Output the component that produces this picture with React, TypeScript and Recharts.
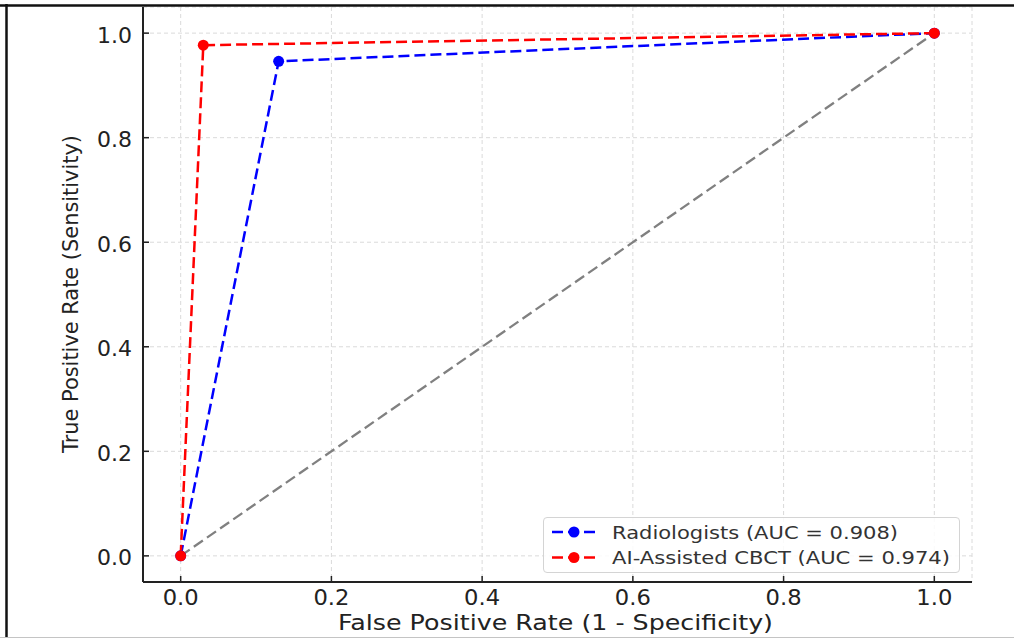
import React from 'react';
import { LineChart, Line, XAxis, YAxis, CartesianGrid, Legend } from 'recharts';

// ---- data ----
const radFpr = [0, 0.13, 1.0];
const radTpr = [0, 0.946, 1.0];
const aiFpr = [0, 0.03, 1.0];
const aiTpr = [0, 0.977, 1.0];
const chanceFpr = [0, 1.0];
const chanceTpr = [0, 1.0];
const axisTicks = [0, 0.2, 0.4, 0.6, 0.8, 1.0];
const seriesNames = ['Radiologists (AUC = 0.908)', 'AI-Assisted CBCT (AUC = 0.974)'];
const seriesColors = ['#0000ff', '#ff0000'];
const xTitle = 'False Positive Rate (1 - Specificity)';
const yTitle = 'True Positive Rate (Sensitivity)';

const toRows = (xs: number[], ys: number[]) => xs.map((x, i) => ({ fpr: x, tpr: ys[i] }));
const radData = toRows(radFpr, radTpr);
const aiData = toRows(aiFpr, aiTpr);
const chanceData = toRows(chanceFpr, chanceTpr);

const FONT = '"DejaVu Sans", sans-serif';
const TEXT = '#222';

const YTick = (p: any) => (
  <text x={p.x} y={p.y + 9.5} textAnchor="end" fontSize={20.5} fill={TEXT} fontFamily={FONT}
    textLength={35} lengthAdjust="spacingAndGlyphs">
    {Number(p.payload.value).toFixed(1)}
  </text>
);

const XTick = (p: any) => (
  <text x={p.x} y={p.y} textAnchor="middle" fontSize={20.5} fill={TEXT} fontFamily={FONT}
    textLength={36} lengthAdjust="spacingAndGlyphs">
    {Number(p.payload.value).toFixed(1)}
  </text>
);

const legendWidths = [286, 338];

const LegendBox = (props: any) => {
  const items = (props.payload || [])
    .filter((e: any) => seriesNames.indexOf(e.value) >= 0)
    .sort((a: any, b: any) => seriesNames.indexOf(a.value) - seriesNames.indexOf(b.value));
  return (
    <div style={{ width: 417, height: 56, boxSizing: 'border-box', border: '1px solid #d4d4d4', borderRadius: 4, background: 'rgba(255,255,255,0.85)' }}>
      <svg width={415} height={54} style={{ display: 'block' }}>
        {items.map((e: any, i: number) => {
          const cy = 14 + i * 25.5;
          const idx = seriesNames.indexOf(e.value);
          return (
            <g key={i}>
              <line x1={8} x2={51} y1={cy} y2={cy} stroke={e.color} strokeWidth={2.5} strokeDasharray="11 5" />
              <circle cx={30} cy={cy} r={5.5} fill={e.color} />
              <text x={68} y={cy + 6.5} fontSize={18.5} fill="#333" fontFamily={FONT}
                textLength={legendWidths[idx]} lengthAdjust="spacingAndGlyphs">{e.value}</text>
            </g>
          );
        })}
      </svg>
    </div>
  );
};

export default function App() {
  return (
    <div style={{ position: 'absolute', left: 0, top: 0, width: 1014, height: 642, background: '#fff', overflow: 'hidden' }}>
      <LineChart width={1014} height={642} margin={{ top: 7, right: 42, left: 0, bottom: 0 }}>
        <CartesianGrid stroke="#dadada" strokeDasharray="4 3" strokeWidth={1} />
        <XAxis dataKey="fpr" type="number" domain={[-0.05, 1.05]} ticks={axisTicks} allowDataOverflow
          height={60} tickSize={-6} tickMargin={29} tick={<XTick />}
          axisLine={{ stroke: '#222', strokeWidth: 2 }} tickLine={{ stroke: '#222', strokeWidth: 1.5 }} />
        <YAxis dataKey="tpr" type="number" domain={[-0.05, 1.05]} ticks={axisTicks} allowDataOverflow
          width={143} tickSize={-6} tickMargin={17} tick={<YTick />}
          axisLine={{ stroke: '#222', strokeWidth: 2 }} tickLine={{ stroke: '#222', strokeWidth: 1.5 }} />
        <Line data={chanceData} dataKey="tpr" type="linear" stroke="#808080" strokeWidth={2.3}
          strokeDasharray="11 5" dot={false} legendType="none" isAnimationActive={false} name="chance" />
        <Line data={radData} dataKey="tpr" type="linear" stroke={seriesColors[0]} strokeWidth={2.5}
          strokeDasharray="11 5" dot={{ r: 5.5, fill: seriesColors[0], stroke: seriesColors[0], strokeWidth: 0 }}
          isAnimationActive={false} name={seriesNames[0]} />
        <Line data={aiData} dataKey="tpr" type="linear" stroke={seriesColors[1]} strokeWidth={2.5}
          strokeDasharray="11 5" dot={{ r: 5.5, fill: seriesColors[1], stroke: seriesColors[1], strokeWidth: 0 }}
          isAnimationActive={false} name={seriesNames[1]} />
        <Legend layout="vertical" align="center" verticalAlign="middle" content={<LegendBox />}
          wrapperStyle={{ left: 543, top: 517, width: 417, height: 56 }} />
      </LineChart>
      <svg width={1014} height={642} style={{ position: 'absolute', left: 0, top: 0, pointerEvents: 'none' }}>
        <text x={555.5} y={630} textAnchor="middle" fontSize={22} fill={TEXT} fontFamily={FONT}
          textLength={435} lengthAdjust="spacingAndGlyphs">{xTitle}</text>
        <text x={78} y={294} textAnchor="middle" fontSize={22} fill={TEXT} fontFamily={FONT}
          transform="rotate(-90, 78, 294)" textLength={318} lengthAdjust="spacingAndGlyphs">{yTitle}</text>
        <line x1={0} x2={1014} y1={5.5} y2={5.5} stroke="#111" strokeWidth={2.5} />
        <line x1={6.5} x2={6.5} y1={4} y2={637} stroke="#111" strokeWidth={2.5} />
        <line x1={0} x2={1014} y1={637.5} y2={637.5} stroke="#c4c4c4" strokeWidth={1} />
      </svg>
    </div>
  );
}
